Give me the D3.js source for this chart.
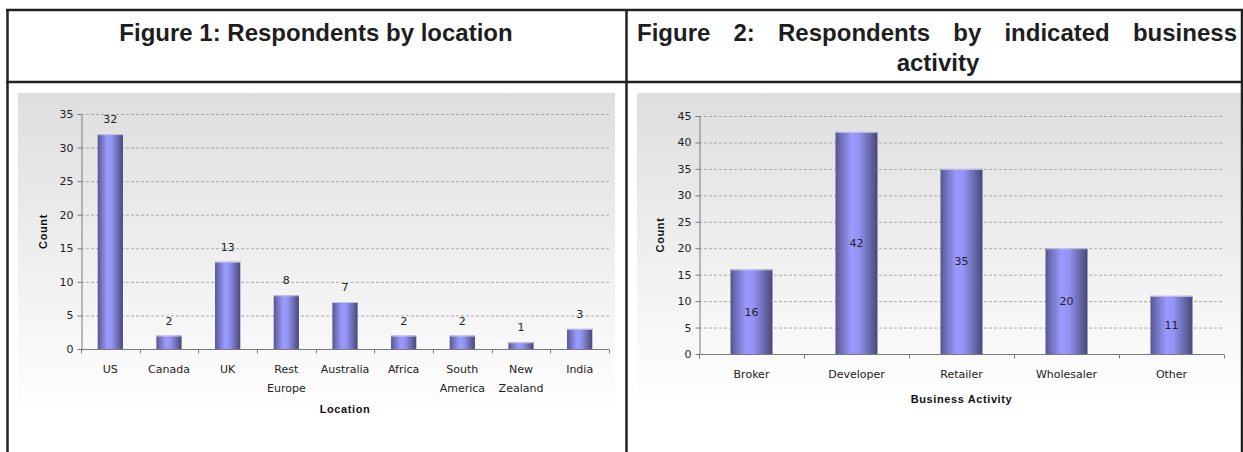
<!DOCTYPE html>
<html><head><meta charset="utf-8">
<script src="https://cdn.jsdelivr.net/npm/d3@7"></script>
<style>body{margin:0;background:#fff}svg{display:block}</style>
</head><body><svg id="c" width="1243" height="452"></svg>
<script>
// ---- data ----
const locCategories = ["US", "Canada", "UK", "Rest Europe", "Australia", "Africa", "South America", "New Zealand", "India"];
const locValues = [32, 2, 13, 8, 7, 2, 2, 1, 3];
const locTicks = [0, 5, 10, 15, 20, 25, 30, 35];
const actCategories = ["Broker", "Developer", "Retailer", "Wholesaler", "Other"];
const actValues = [16, 42, 35, 20, 11];
const actTicks = [0, 5, 10, 15, 20, 25, 30, 35, 40, 45];
const title1 = "Figure 1: Respondents by location";
const title2Line1 = ["Figure", "2:", "Respondents", "by", "indicated", "business"];
const title2Line2 = "activity";
const locAxisTitle = "Location";
const actAxisTitle = "Business Activity";
const countTitle = "Count";

const svg = d3.select("#c");
const defs = svg.append("defs");

const bg = defs.append("linearGradient").attr("id", "bgGrad").attr("x1", 0).attr("y1", 0).attr("x2", 0).attr("y2", 1);
bg.append("stop").attr("offset", "0%").attr("stop-color", "#dedede");
bg.append("stop").attr("offset", "100%").attr("stop-color", "#ffffff");

const bar = defs.append("linearGradient").attr("id", "barGrad").attr("x1", 0).attr("y1", 0).attr("x2", 1).attr("y2", 0);
[["0%", "#54548a"], ["12%", "#6e6eb8"], ["38%", "#9a9aff"], ["55%", "#9494f6"], ["80%", "#6a6aae"], ["100%", "#48487a"]]
  .forEach(([o, c]) => bar.append("stop").attr("offset", o).attr("stop-color", c));

// ---- chart drawing ----
function drawChart(o) {
  const g = svg.append("g");
  g.append("rect").attr("x", o.bg[0]).attr("y", o.bg[1]).attr("width", o.bg[2] - o.bg[0]).attr("height", o.bg[3] - o.bg[1]).attr("fill", "url(#bgGrad)");
  const x = d3.scaleBand().domain(o.cats).range([o.x0, o.x1]).paddingInner(o.pad).paddingOuter(o.pad / 2);
  const xb = d3.scaleBand().domain(o.cats).range([o.x0, o.x1]);
  const y = d3.scaleLinear().domain([0, o.max]).range([o.y0, o.yTop]);

  // gridlines
  g.append("g").selectAll("line").data(o.ticks.filter(t => t > 0)).join("line")
    .attr("x1", o.x0).attr("x2", o.x1).attr("y1", d => y(d) + 0.5).attr("y2", d => y(d) + 0.5)
    .attr("stroke", "#a9a9a9").attr("stroke-width", 1).attr("stroke-dasharray", "3,2");

  // bars
  g.append("g").selectAll("rect").data(o.vals).join("rect")
    .attr("x", (d, i) => x(o.cats[i])).attr("width", x.bandwidth())
    .attr("y", d => y(d)).attr("height", d => y(0) - y(d))
    .attr("fill", "url(#barGrad)");
  g.append("g").selectAll("line").data(o.vals).join("line")
    .attr("x1", (d, i) => x(o.cats[i])).attr("x2", (d, i) => x(o.cats[i]) + x.bandwidth())
    .attr("y1", d => y(d) + 0.5).attr("y2", d => y(d) + 0.5)
    .attr("stroke", "#c6c6ea").attr("stroke-width", 1);

  // y axis
  const ya = g.append("g").attr("transform", `translate(${o.x0 + 0.5},0)`)
    .call(d3.axisLeft(y).tickValues(o.ticks).tickSize(4).tickPadding(4).tickSizeOuter(0));
  ya.select(".domain").attr("stroke", "#7a7a7a");
  ya.selectAll(".tick line").attr("stroke", "#7a7a7a");
  ya.selectAll("text").attr("fill", "#222").style("font", "11px 'DejaVu Sans'");

  // x axis
  const xa = g.append("g").attr("transform", `translate(0,${o.y0 + 0.5})`);
  xa.append("line").attr("x1", o.x0).attr("x2", o.x1).attr("stroke", "#7a7a7a");
  xa.selectAll("line.t").data(d3.range(o.cats.length + 1)).join("line").attr("class", "t")
    .attr("x1", i => Math.round(o.x0 + i * xb.step()) + 0.5).attr("x2", i => Math.round(o.x0 + i * xb.step()) + 0.5)
    .attr("y1", 0).attr("y2", 4).attr("stroke", "#7a7a7a");
  const lbl = xa.selectAll("text").data(o.cats).join("text")
    .attr("x", d => x(d) + x.bandwidth() / 2).attr("y", o.lblY - o.y0)
    .attr("text-anchor", "middle").attr("fill", "#222").style("font", "11px 'DejaVu Sans'");
  lbl.each(function (d) {
    const words = o.wrap ? d.split(" ") : [d];
    const t = d3.select(this);
    words.forEach((w, k) => t.append("tspan").attr("x", x(d) + x.bandwidth() / 2).attr("dy", k === 0 ? 0 : 19).text(w));
  });

  // value labels
  g.append("g").selectAll("text").data(o.vals).join("text")
    .attr("x", (d, i) => x(o.cats[i]) + x.bandwidth() / 2)
    .attr("y", d => o.inside ? (y(d) + y(0)) / 2 + 4 : y(d) - 11)
    .attr("text-anchor", "middle").attr("fill", "#222").style("font", "11px 'DejaVu Sans'")
    .text(d => d);

  // axis titles
  g.append("text").attr("x", (o.x0 + o.x1) / 2).attr("y", o.titleY).attr("text-anchor", "middle")
    .attr("fill", "#111").style("font", "bold 11px 'Liberation Sans'").style("letter-spacing", "0.6px").text(o.xTitle);
  g.append("text").attr("transform", `translate(${o.countX},${(o.y0 + o.yTop) / 2}) rotate(-90)`)
    .attr("text-anchor", "middle").attr("fill", "#111").style("font", "bold 11px 'Liberation Sans'").style("letter-spacing", "0.6px").text(countTitle);
}

drawChart({
  bg: [18, 93, 615, 416], cats: locCategories, vals: locValues, ticks: locTicks, max: 35,
  x0: 81, x1: 609, y0: 349, yTop: 114, pad: 0.57, lblY: 372, wrap: true, inside: false,
  titleY: 413, xTitle: locAxisTitle, countX: 47
});
drawChart({
  bg: [637, 93, 1243, 403], cats: actCategories, vals: actValues, ticks: actTicks, max: 45,
  x0: 699, x1: 1224, y0: 354, yTop: 116, pad: 0.6, lblY: 377, wrap: false, inside: true,
  titleY: 403, xTitle: actAxisTitle, countX: 664
});

// ---- table frame and titles ----
const frame = svg.append("g").attr("stroke", "#222").attr("stroke-width", 2.5);
frame.append("line").attr("x1", 6).attr("x2", 1243).attr("y1", 10).attr("y2", 10);
frame.append("line").attr("x1", 6).attr("x2", 1243).attr("y1", 82).attr("y2", 82);
frame.append("line").attr("x1", 7.5).attr("x2", 7.5).attr("y1", 9).attr("y2", 452);
frame.append("line").attr("x1", 626.5).attr("x2", 626.5).attr("y1", 9).attr("y2", 452);
frame.append("line").attr("x1", 1242).attr("x2", 1242).attr("y1", 9).attr("y2", 452);

const tfont = "bold 24px 'Liberation Sans'";
svg.append("text").attr("x", 316).attr("y", 41).attr("text-anchor", "middle").attr("fill", "#1e1e1e")
  .style("font", tfont).text(title1);

// justified first line of title 2
const words = svg.append("g").selectAll("text").data(title2Line1).join("text")
  .attr("y", 41).attr("fill", "#1e1e1e").style("font", tfont).text(d => d);
const widths = [];
words.each(function () { widths.push(this.getComputedTextLength()); });
const left = 637, right = 1237;
const gap = (right - left - d3.sum(widths)) / (widths.length - 1);
let cx = left;
words.attr("x", (d, i) => { const v = cx; cx += widths[i] + gap; return v; });
svg.append("text").attr("x", 938).attr("y", 71).attr("text-anchor", "middle").attr("fill", "#1e1e1e")
  .style("font", tfont).text(title2Line2);
</script>
</body></html>
